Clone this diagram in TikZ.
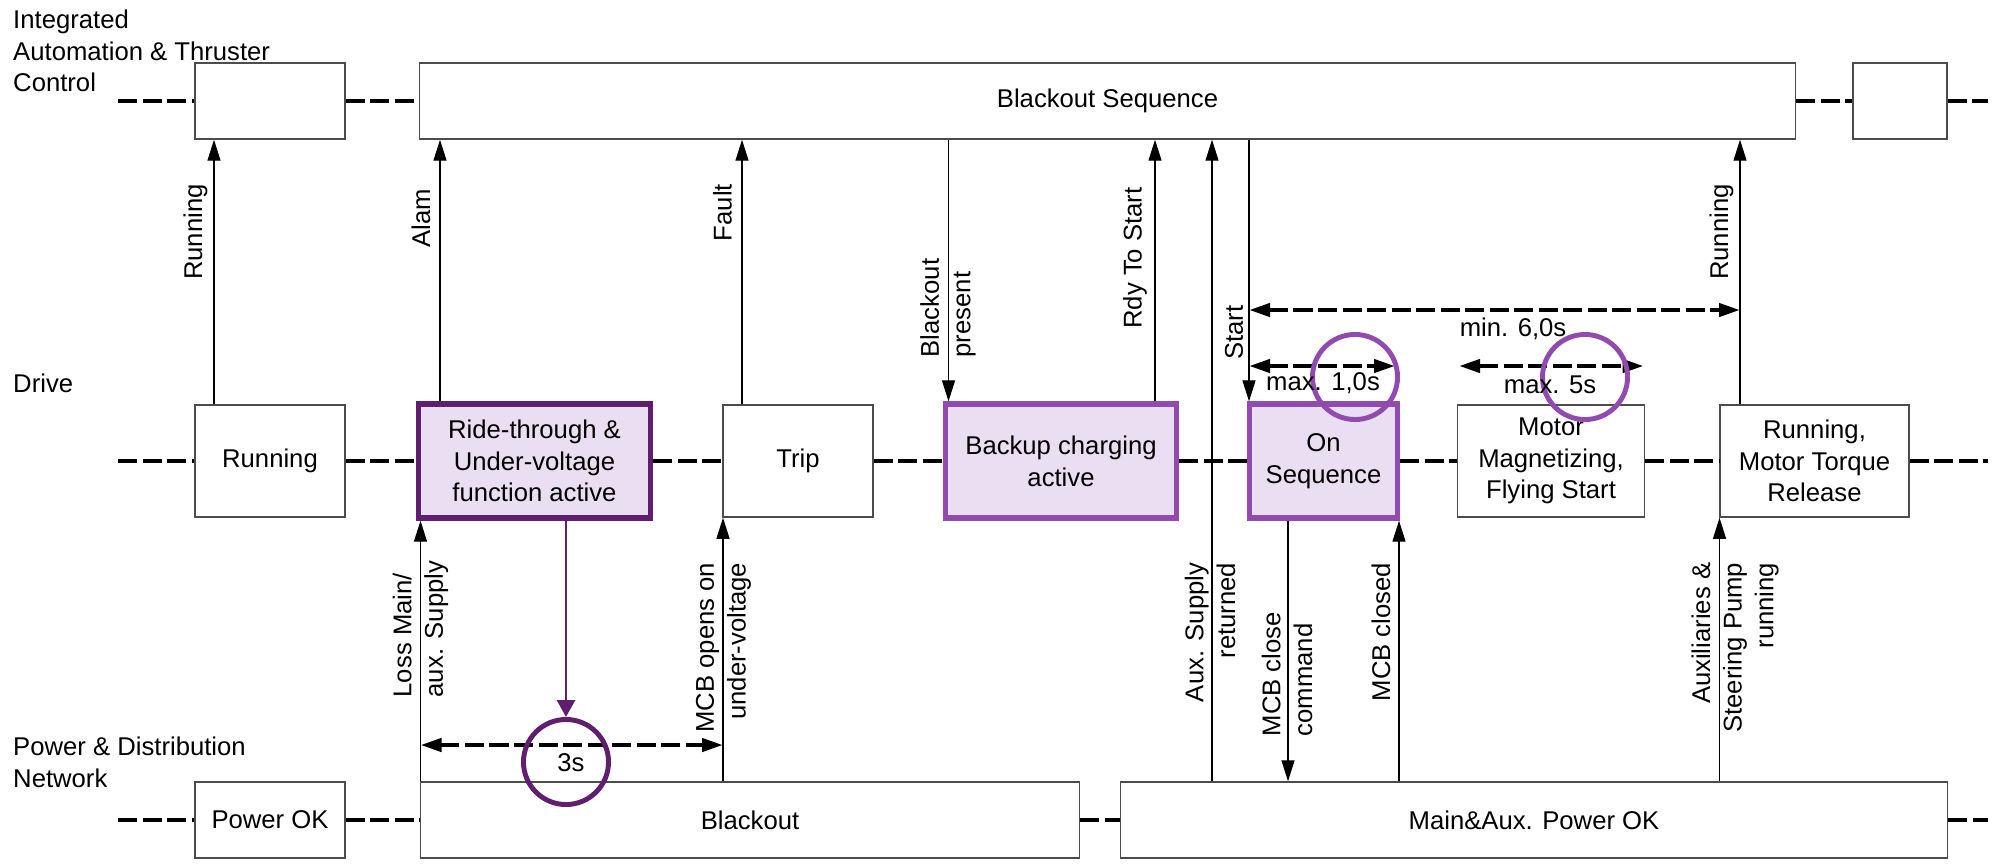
\documentclass[tikz,border=0pt]{standalone}
\usepackage{fontspec}
\setmainfont{Liberation Sans}
\usetikzlibrary{arrows.meta}
\definecolor{rtpurple}{RGB}{95,30,110}
\definecolor{seqpurple}{RGB}{145,75,175}
\definecolor{actfill}{RGB}{234,222,242}
\newcommand{\boxfont}{\fontsize{7.3}{9}\selectfont}
\tikzset{box/.style={draw=black!70,line width=0.4pt,fill=white,align=center,inner sep=1pt},
 active/.style={box,draw=seqpurple,line width=1.5pt,fill=actfill},
 lane/.style={line width=1.4pt,dash pattern=on 0.19cm off 0.055cm},
 sig/.style={draw=black,line width=0.35pt,-{Triangle[length=0.21cm,width=0.13cm]}},
 siglabel/.style={rotate=90,inner sep=1pt},
 dim/.style={line width=1.2pt,dash pattern=on 0.19cm off 0.055cm,{Triangle[length=0.21cm,width=0.13cm]}-{Triangle[length=0.21cm,width=0.13cm]}},
 ring/.style={circle,draw=seqpurple,line width=1.4pt,minimum size=0.85cm,inner sep=0},
 lanename/.style={align=left,anchor=west,inner sep=1pt}}

\begin{document}
\begin{tikzpicture}[x=0.01cm,y=-0.01cm,every node/.style={font=\boxfont}]
\useasboundingbox (0,0) rectangle (2007,866);
\node[lanename] (lnIA) at (9,51) {Integrated\\Automation \& Thruster\\Control};
\node[lanename] (lnDrv) at (9,383) {Drive};
\node[lanename] (lnPwr) at (9,762) {Power \& Distribution\\Network};

\node[box,minimum width=1.5cm,minimum height=0.76cm] (ia1) at (270,101) {};
\node[box,minimum width=13.75cm,minimum height=0.76cm] (seq) at (1107.5,101) {Blackout Sequence};
\node[box,minimum width=0.94cm,minimum height=0.76cm] (ia3) at (1900,101) {};

\node[box,minimum width=1.5cm,minimum height=1.12cm] (drvrun) at (270,461) {Running};
\node[active,draw=rtpurple,minimum width=2.32cm,minimum height=1.14cm] (ride) at (534.5,461) {Ride-through \&\\Under-voltage\\function active};
\node[box,minimum width=1.5cm,minimum height=1.12cm] (trip) at (798,461) {Trip};
\node[active,minimum width=2.31cm,minimum height=1.14cm] (backup) at (1061,461) {Backup charging\\active};
\node[active,minimum width=1.48cm,minimum height=1.14cm] (onseq) at (1323.5,461) {On\\Sequence};
\node[box,minimum width=1.865cm,minimum height=1.12cm] (magn) at (1551,461) {Motor\\Magnetizing,\\Flying Start};
\node[box,minimum width=1.89cm,minimum height=1.12cm] (run2) at (1814.5,461) {Running,\\Motor Torque\\Release};

\node[box,minimum width=1.5cm,minimum height=0.76cm] (pwrok) at (270,820) {Power OK};
\node[box,minimum width=6.585cm,minimum height=0.76cm] (blk) at (750,820) {Blackout};
\node[box,minimum width=8.27cm,minimum height=0.76cm] (mainok) at (1534,820) {Main\&Aux. Power OK};

\coordinate (iaL) at (118,101); \coordinate (iaR) at (1988,101);
\coordinate (drL) at (118,461); \coordinate (drR) at (1988,461);
\coordinate (pwL) at (118,820); \coordinate (pwR) at (1988,820);
\draw[lane] (iaL) -- (ia1.west) (ia1.east) -- (seq.west) (seq.east) -- (ia3.west) (ia3.east) -- (iaR);
\draw[lane] (drL) -- (drvrun.west) (drvrun.east) -- (ride.west) (ride.east) -- (trip.west) (trip.east) -- (backup.west)
 (backup.east) -- (onseq.west) (onseq.east) -- (magn.west) (magn.east) -- (run2.west) (run2.east) -- (drR);
\draw[lane] (pwL) -- (pwrok.west) (pwrok.east) -- (blk.west) (blk.east) -- (mainok.west) (mainok.east) -- (pwR);

\draw[sig] (drvrun.north -| 214,0) -- (ia1.south -| 214,0);
\draw[sig] (ride.north -| 440,0) -- (seq.south -| 440,0);
\draw[sig] (trip.north -| 742,0) -- (seq.south -| 742,0);
\draw[sig] (seq.south -| 948.5,0) -- (backup.north -| 948.5,0);
\draw[sig] (backup.north -| 1155,0) -- (seq.south -| 1155,0);
\draw[sig] (mainok.north -| 1212,0) -- (seq.south -| 1212,0);
\draw[sig] (seq.south -| 1249,0) -- (onseq.north -| 1249,0);
\draw[sig] (run2.north -| 1740,0) -- (seq.south -| 1740,0);
\draw[sig] (blk.north -| 420.5,0) -- (ride.south -| 420.5,0);
\draw[sig] (blk.north -| 723,0) -- (trip.south -| 723,0);
\draw[sig] (onseq.south -| 1288,0) -- (mainok.north -| 1288,0);
\draw[sig] (mainok.north -| 1399,0) -- (onseq.south -| 1399,0);
\draw[sig] (mainok.north -| 1719.5,0) -- (run2.south -| 1719.5,0);

\coordinate (d3a) at (420.5,745); \coordinate (d3b) at (723,745);
\coordinate (d6a) at (1249,310); \coordinate (d6b) at (1740,310);
\coordinate (d1a) at (1249,366); \coordinate (d1b) at (1395,366);
\coordinate (d5a) at (1459,366); \coordinate (d5b) at (1643.5,366);
\draw[dim] (d3a) -- (d3b);
\draw[dim] (d6a) -- (d6b);
\draw[dim] (d1a) -- (d1b);
\draw[dim] (d5a) -- (d5b);

\node[ring] (c1) at (1355,377) {};
\node[ring] (c2) at (1585,377) {};
\node[ring,draw=rtpurple] (c3) at (566,762) {};
\draw[draw=rtpurple,line width=0.8pt,-{Triangle[length=0.17cm,width=0.18cm]}] (ride.south -| c3.north) -- (c3.north);

\node (t6) at (1513,329) {min. 6,0s};
\node (t1) at (1323,383) {max. 1,0s};
\node (t5) at (1550,385) {max. 5s};
\node (t3) at (571,763) {3s};

\node[siglabel] (lbRun1) at (195.5,232) {Running};
\node[siglabel] (lbAlarm) at (421,218.5) {Alam};
\node[siglabel] (lbFault) at (722.5,212.5) {Fault};
\node[siglabel,anchor=west,align=left] (lbBlk) at (948,361.5) {Blackout\\present};
\node[siglabel] (lbRdy) at (1135,258) {Rdy To Start};
\node[siglabel] (lbStart) at (1234,332.5) {Start};
\node[siglabel] (lbRun2) at (1721.5,232) {Running};
\node[siglabel,anchor=west,align=left] (lbLoss) at (420.5,701.5) {Loss Main/\\aux. Supply};
\node[siglabel,anchor=east,align=right] (lbMcbO) at (723.5,558.5) {MCB opens on\\under-voltage};
\node[siglabel,anchor=east,align=right] (lbAux) at (1210,558.5) {Aux. Supply\\returned};
\node[siglabel,anchor=west,align=left] (lbMcbC) at (1287,740.5) {MCB close\\command};
\node[siglabel] (lbMcbD) at (1381,632) {MCB closed};
\node[siglabel,anchor=east,align=right] (lbAuxP) at (1735,558.5) {Auxiliaries \&\\Steering Pump\\running};
\end{tikzpicture}
\end{document}
